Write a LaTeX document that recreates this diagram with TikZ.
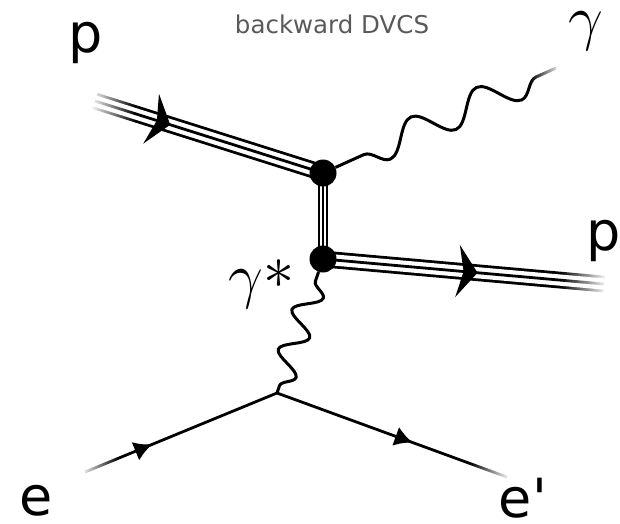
\RequirePackage{fix-cm}
\documentclass[tikz,border=0pt]{standalone}
\usepackage{fontspec}
\setmainfont{DejaVu Sans}
\usetikzlibrary{arrows.meta,decorations.markings,decorations.pathmorphing,backgrounds,fadings}
\definecolor{ink}{HTML}{000000}
\definecolor{muted}{HTML}{595959}
\tikzfading[name=fadeleft,left color=transparent!0,right color=transparent!100]
\tikzfading[name=faderight,left color=transparent!100,right color=transparent!0]
\tikzset{
  fermion/.style={draw=ink,line width=2.8pt},
  proton/.style={draw=ink,line width=2.8pt,
    preaction={draw=ink,line width=16.8pt},
    preaction={draw=white,line width=11.2pt}},
  exchange/.style={draw=ink,line width=2pt,
    preaction={draw=ink,line width=10.6pt},
    preaction={draw=white,line width=6.6pt}},
  photon/.style={draw=ink,line width=3pt,decorate,decoration={snake,#1}},
  bigarrow/.style={postaction={decorate,decoration={markings,
    mark=at position #1 with {\arrow{Stealth[length=20pt,width=52pt,inset=6pt]}}}}},
  smallarrow/.style={postaction={decorate,decoration={markings,
    mark=at position #1 with {\arrow{Latex[length=18pt,width=20pt]}}}}},
  vertex/.style={circle,fill=ink,minimum size=27pt,inner sep=0pt},
  endfade/.style={fill=white,path fading=#1}
}

\begin{document}
\begin{tikzpicture}[x=1pt,y=-1pt,
    tag/.style={inner sep=0pt,anchor=base,font=\fontsize{54}{60}\selectfont},
    greek/.style={inner sep=0pt,font=\fontsize{62}{70}\selectfont}
  ]
  \useasboundingbox (0,0) rectangle (620,523);

  \node[vertex] (vtop) at (323,173) {};
  \node[vertex] (vbot) at (323,259) {};
  \coordinate (pin) at (95,101);
  \coordinate (pout) at (604,284);
  \coordinate (gout) at (556,68);
  \coordinate (evtx) at (277,393);
  \coordinate (ein) at (85,472);
  \coordinate (eout) at (507,477);

  \begin{scope}[on background layer]
    \draw[proton,bigarrow=0.33] (pin) -- (vtop.center);
    \draw[proton,bigarrow=0.55] (vbot.center) -- (pout);
    \draw[exchange] (vtop.center) -- (vbot.center);
    \draw[photon={amplitude=15pt,segment length=72pt,pre length=31pt,mirror}] (vtop) -- (gout);
    \draw[photon={amplitude=13pt,segment length=42pt,pre length=10pt}] (vbot) -- (evtx);
    \draw[fermion,smallarrow=0.35] (ein) -- (evtx);
    \draw[fermion,smallarrow=0.59] (evtx) -- (eout);

    \fill[endfade=fadeleft] (90,84) rectangle (135,126);
    \fill[endfade=fadeleft] (80,455) rectangle (118,482);
    \fill[endfade=faderight] (470,455) rectangle (510,484);
    \fill[endfade=faderight] (560,266) rectangle (607,302);
    \fill[endfade=faderight] (530,52) rectangle (561,100);
  \end{scope}

  \node[font=\fontsize{24.5}{28}\selectfont,text=muted,anchor=base,inner sep=0pt] (title) at (332,33) {backward DVCS};
  \node[tag] (pinlab) at (86,52) {p};
  \node[tag] (poutlab) at (604,250) {p};
  \node[tag] (einlab) at (36,515) {e};
  \node[tag] (eoutlab) at (523,517) {e\textquotesingle};
  \node[greek] (glab) at (586,31) {$\gamma$};
  \node[greek,anchor=base west] (gvlab) at (228,296) {$\gamma$\raisebox{8pt}{$\ast$}};
\end{tikzpicture}
\end{document}
